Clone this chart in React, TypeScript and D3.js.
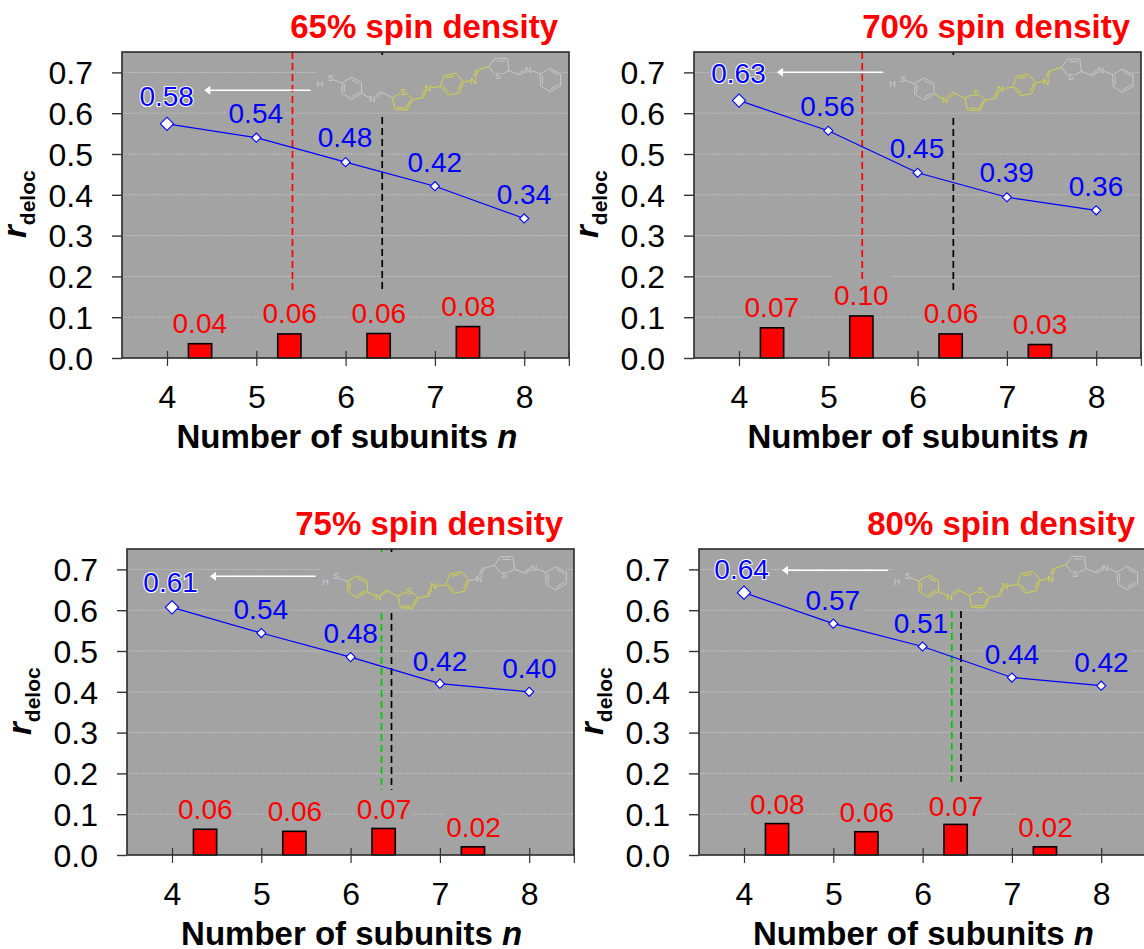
import { useRef, useEffect } from 'react';
import * as d3 from 'd3';

const FONT = '"Liberation Sans", Arial, sans-serif';
const BG = '#a3a3a3';

// values
const subunits = [4, 5, 6, 7, 8];
const barSubunits = [4.37, 5.37, 6.37, 7.37];
const yTicks = [0, 0.1, 0.2, 0.3, 0.4, 0.5, 0.6, 0.7];

const line65 = [0.574, 0.54, 0.48, 0.421, 0.342];
const line70 = [0.631, 0.557, 0.454, 0.394, 0.362];
const line75 = [0.607, 0.544, 0.485, 0.42, 0.4];
const line80 = [0.643, 0.567, 0.511, 0.435, 0.415];

const bars65 = [0.035, 0.059, 0.06, 0.077];
const bars70 = [0.074, 0.103, 0.059, 0.033];
const bars75 = [0.063, 0.058, 0.065, 0.02];
const bars80 = [0.077, 0.057, 0.075, 0.02];

const lineLabels65 = ['0.58', '0.54', '0.48', '0.42', '0.34'];
const lineLabels70 = ['0.63', '0.56', '0.45', '0.39', '0.36'];
const lineLabels75 = ['0.61', '0.54', '0.48', '0.42', '0.40'];
const lineLabels80 = ['0.64', '0.57', '0.51', '0.44', '0.42'];

const barLabels65 = ['0.04', '0.06', '0.06', '0.08'];
const barLabels70 = ['0.07', '0.10', '0.06', '0.03'];
const barLabels75 = ['0.06', '0.06', '0.07', '0.02'];
const barLabels80 = ['0.08', '0.06', '0.07', '0.02'];

// label anchors in page pixels: [centre x, baseline y]
const PANELS = [
  {
    title: '65% spin density', line: line65, bars: bars65, lineLabels: lineLabels65, barLabels: barLabels65,
    left: 122, top: 52, titleEnd: 558, titleY: 38, xTitle: 347, xTitleY: 448, yTitleX: 26, yTitleY: 238,
    linePos: [[166.7, 106], [255.8, 122.7], [345, 147], [434.8, 172], [524, 204]],
    barPos: [[199.8, 333], [289.7, 322.7], [378.8, 322.7], [468.4, 316]],
    arrow: [310.7, 204.3, 90.3],
    mol: [300, 50], box: [316, 54, 245, 46], hot: ['thio1', 'n2', 'ring2', 'n3'],
    refs: [
      { n: 5.405, color: '#ff0000', spans: [[52, 292.7]] },
      { n: 6.41, color: '#000000', spans: [[52, 55], [117, 292.7]] },
    ],
  },
  {
    title: '70% spin density', line: line70, bars: bars70, lineLabels: lineLabels70, barLabels: barLabels70,
    left: 694, top: 52, titleEnd: 1130, titleY: 38, xTitle: 918, xTitleY: 448, yTitleX: 598, yTitleY: 238,
    linePos: [[738.5, 83], [827.6, 116], [917, 158], [1006.7, 181.7], [1096, 196]],
    barPos: [[771.8, 317.3], [861.3, 305], [951, 323], [1040, 334.3]],
    arrow: [882.8, 777, 72.3],
    mol: [872.5, 50.7], box: [886, 54, 245, 46], hot: ['n1', 'thio1', 'n2', 'ring2', 'n3'],
    refs: [
      { n: 5.38, color: '#ff0000', spans: [[52, 281.7]] },
      { n: 6.4, color: '#000000', spans: [[52, 55], [118, 293.3]] },
    ],
  },
  {
    title: '75% spin density', line: line75, bars: bars75, lineLabels: lineLabels75, barLabels: barLabels75,
    left: 127, top: 549, titleEnd: 563, titleY: 535, xTitle: 351.6, xTitleY: 945, yTitleX: 31, yTitleY: 735,
    linePos: [[170.6, 591.7], [260.8, 619.3], [350.7, 643.3], [440, 670.7], [529.4, 678.3]],
    barPos: [[205.3, 819], [294.9, 821], [384, 819], [473.5, 836.7]],
    arrow: [315.6, 210, 576.3],
    mol: [305.6, 548.4], box: [321, 551, 245, 46], hot: ['ring1', 'n1', 'thio1', 'n2', 'ring2'],
    refs: [
      { n: 6.346, color: '#00c800', spans: [[549, 552], [613, 789.7]] },
      { n: 6.458, color: '#000000', spans: [[549, 552], [613, 789.7]] },
    ],
  },
  {
    title: '80% spin density', line: line80, bars: bars80, lineLabels: lineLabels80, barLabels: barLabels80,
    left: 699, top: 549, titleEnd: 1135, titleY: 535, xTitle: 923.5, xTitleY: 945, yTitleX: 603, yTitleY: 735,
    linePos: [[741.6, 579], [832.8, 610.3], [921, 632.7], [1011.9, 664], [1101.4, 672]],
    barPos: [[777.3, 814], [866.8, 821.7], [956, 815.7], [1045.5, 836.7]],
    arrow: [888, 782, 570.3],
    mol: [877, 548], box: [893, 551, 248, 46], hot: ['ring1', 'n1', 'thio1', 'n2', 'ring2', 'n3'],
    refs: [
      { n: 6.327, color: '#00c800', spans: [[611, 781.7]] },
      { n: 6.43, color: '#000000', spans: [[611, 781.7]] },
    ],
  },
];

const PLOT_W = 447;
const PLOT_H = 306;

// molecule sketch, in 3x pixels from its own origin
const MOLECULE = {
  hs: {
    paths: ['M102,90L125,99'],
    atoms: [['H', 60, 100], ['S', 92, 83]],
  },
  ring1: {
    paths: ['M127,98L155,82L184,97L185,130L155,148L126,130Z', 'M133,102L133,126M155,90L177,101M155,140L178,127'],
    atoms: [],
  },
  n1: {
    paths: ['M185,130L208,143', 'M226,138L241,125M230,142L245,129', 'M241,125L277,143'],
    atoms: [['N', 217, 146]],
  },
  thio1: {
    paths: ['M277,143L300,131M320,132L338,148L322,180L285,178L277,143', 'M332,150L318,175M291,172L316,174'],
    atoms: [['S', 310, 126]],
  },
  n2: {
    paths: ['M338,148L370,143', 'M370,143L379,122M365,140L374,120', 'M392,113L420,110'],
    atoms: [['N', 383, 113]],
  },
  ring2: {
    paths: ['M421,108L433,77L468,70L490,97L478,128L445,135Z', 'M438,84L463,78M484,97L474,121M428,108L447,127'],
    atoms: [],
  },
  n3: {
    paths: ['M490,97L512,92', 'M526,82L535,60M521,80L530,58', 'M535,60L567,50'],
    atoms: [['N', 520, 92]],
  },
  thio2: {
    paths: ['M567,50L585,25L622,25L627,62L606,73M584,73L567,50', 'M591,33L616,33'],
    atoms: [['S', 595, 78]],
  },
  n4: {
    paths: ['M627,62L660,75', 'M660,75L677,63M657,70L674,58', 'M695,62L720,72'],
    atoms: [['N', 685, 58]],
  },
  ring3: {
    paths: ['M720,72L750,55L782,72L782,107L750,125L722,107Z', 'M752,62L776,76M776,102L752,117M728,103L728,76'],
    atoms: [],
  },
};

export default function App() {
  const svgRef = useRef<SVGSVGElement | null>(null);

  useEffect(() => {
    const svg = d3.select(svgRef.current);
    svg.selectAll('*').remove();
    svg.style('font-family', FONT);

    PANELS.forEach((p) => {
      const y = d3.scaleLinear().domain([0, 0.75]).range([p.top + PLOT_H, p.top]);
      const x0 = p.left + 45;
      const x = d3.scaleLinear().domain([4, 8]).range([x0, x0 + 357.2]);
      const g = svg.append('g');
      const bottom = p.top + PLOT_H;

      g.append('rect').attr('x', p.left).attr('y', p.top)
        .attr('width', PLOT_W).attr('height', PLOT_H).attr('fill', BG);

      // grid
      yTicks.slice(1).forEach((t) => {
        g.append('line').attr('x1', p.left).attr('x2', p.left + PLOT_W)
          .attr('y1', y(t)).attr('y2', y(t))
          .attr('stroke', '#c6c6c6').attr('stroke-width', 0.8).attr('stroke-dasharray', '2 1');
      });

      // masks behind the molecule and the labels
      g.append('rect').attr('x', p.box[0]).attr('y', p.box[1])
        .attr('width', p.box[2]).attr('height', p.box[3]).attr('fill', BG);
      p.barPos.forEach(([cx, by]) => {
        g.append('rect').attr('x', cx - 29).attr('y', by - 31)
          .attr('width', 58).attr('height', 35).attr('fill', BG);
      });
      p.linePos.forEach(([cx, by]) => {
        g.append('rect').attr('x', cx - 29).attr('y', by - 22)
          .attr('width', 58).attr('height', 24).attr('fill', BG);
      });

      // dashed markers
      p.refs.forEach((r) => {
        r.spans.forEach(([a, b]) => {
          g.append('line').attr('x1', x(r.n)).attr('x2', x(r.n))
            .attr('y1', a).attr('y2', b)
            .attr('stroke', r.color).attr('stroke-width', 1.7).attr('stroke-dasharray', '7 4');
        });
      });

      // molecule
      const mol = g.append('g')
        .attr('transform', `translate(${p.mol[0]},${p.mol[1]}) scale(${1 / 3})`);
      Object.entries(MOLECULE).forEach(([key, part]) => {
        const color = p.hot.includes(key) ? '#d9d93a' : '#cdcdcd';
        part.paths.forEach((d) => {
          mol.append('path').attr('d', d).attr('fill', 'none')
            .attr('stroke', color).attr('stroke-width', 2.6);
        });
        part.atoms.forEach(([t, ax, ay]) => {
          mol.append('text').attr('x', ax).attr('y', ay).attr('dy', '0.36em')
            .attr('text-anchor', 'middle').attr('font-size', 27)
            .attr('fill', color).text(t as string);
        });
      });

      // arrow
      const [ax1, ax2, ay] = p.arrow;
      g.append('line').attr('x1', ax1).attr('x2', ax2 + 5).attr('y1', ay).attr('y2', ay)
        .attr('stroke', '#ffffff').attr('stroke-width', 1.4);
      g.append('path')
        .attr('d', d3.line()([[ax2, ay], [ax2 + 6, ay - 4.5], [ax2 + 6, ay + 4.5]]) + 'Z')
        .attr('fill', '#ffffff');

      // bars
      const barW = x(4.26) - x(4);
      p.bars.forEach((v, i) => {
        g.append('rect')
          .attr('x', x(barSubunits[i]) - barW / 2).attr('y', y(v))
          .attr('width', barW).attr('height', bottom - y(v))
          .attr('fill', '#ff0000').attr('stroke', '#000').attr('stroke-width', 1.6);
      });

      // line and diamonds
      const lineGen = d3.line<number>().x((_, i) => x(subunits[i])).y((d) => y(d));
      g.append('path').attr('d', lineGen(p.line)).attr('fill', 'none')
        .attr('stroke', '#0000ff').attr('stroke-width', 1.2);
      p.line.forEach((v, i) => {
        g.append('path')
          .attr('d', d3.symbol().type(d3.symbolSquare).size(i === 0 ? 88 : 42)())
          .attr('transform', `translate(${x(subunits[i])},${y(v)}) rotate(45)`)
          .attr('fill', '#ffffff').attr('stroke', '#0000ff').attr('stroke-width', 1.1);
      });

      // value labels
      p.lineLabels.forEach((t, i) => {
        const label = g.append('text').attr('x', p.linePos[i][0]).attr('y', p.linePos[i][1])
          .attr('text-anchor', 'middle').attr('font-size', 28).attr('fill', '#0000ff').text(t);
        if (i === 0) {
          label.attr('stroke', '#ffffff').attr('stroke-width', 2).style('paint-order', 'stroke');
        }
      });
      p.barLabels.forEach((t, i) => {
        g.append('text').attr('x', p.barPos[i][0]).attr('y', p.barPos[i][1])
          .attr('text-anchor', 'middle').attr('font-size', 28).attr('fill', '#ff0000').text(t);
      });

      // frame
      g.append('rect').attr('x', p.left).attr('y', p.top)
        .attr('width', PLOT_W).attr('height', PLOT_H)
        .attr('fill', 'none').attr('stroke', '#2a2a2a').attr('stroke-width', 1.6);

      // axes
      const yAxis = g.append('g').attr('transform', `translate(${p.left},0)`)
        .call(d3.axisLeft(y).tickValues(yTicks).tickFormat(d3.format('.1f')).tickSize(10).tickPadding(19));
      yAxis.select('.domain').remove();
      yAxis.selectAll('line').attr('stroke', '#333').attr('stroke-width', 1.4);
      yAxis.selectAll('text').attr('font-size', 32).attr('font-family', FONT).attr('fill', '#000')
        .attr('dy', '0.35em');

      const xAxis = g.append('g').attr('transform', `translate(0,${bottom})`)
        .call(d3.axisBottom(x).tickValues([...subunits, 8.5])
          .tickFormat((d) => (d === 8.5 ? '' : String(d))).tickSize(8).tickPadding(19));
      xAxis.select('.domain').remove();
      xAxis.selectAll('line').attr('y1', -7).attr('stroke', '#333').attr('stroke-width', 1.2);
      xAxis.selectAll('text').attr('font-size', 32).attr('font-family', FONT).attr('fill', '#000');

      // titles
      g.append('text').attr('x', p.titleEnd).attr('y', p.titleY).attr('text-anchor', 'end')
        .attr('font-size', 33).attr('font-weight', 'bold').attr('fill', '#ff0000').text(p.title);

      const xt = g.append('text').attr('x', p.xTitle).attr('y', p.xTitleY).attr('text-anchor', 'middle')
        .attr('font-size', 33).attr('font-weight', 'bold').attr('fill', '#000');
      xt.append('tspan').text('Number of subunits ');
      xt.append('tspan').attr('font-style', 'italic').text('n');

      const yt = g.append('text')
        .attr('transform', `translate(${p.yTitleX},${p.yTitleY}) rotate(-90)`)
        .attr('font-size', 33).attr('font-weight', 'bold').attr('fill', '#000');
      yt.append('tspan').attr('font-style', 'italic').text('r');
      yt.append('tspan').attr('font-size', 21).attr('dy', 9).text('deloc');
    });
  }, []);

  return (
    <svg
      ref={svgRef}
      width={1144}
      height={949}
      style={{ position: 'absolute', left: 0, top: 0, background: '#fff' }}
    />
  );
}
